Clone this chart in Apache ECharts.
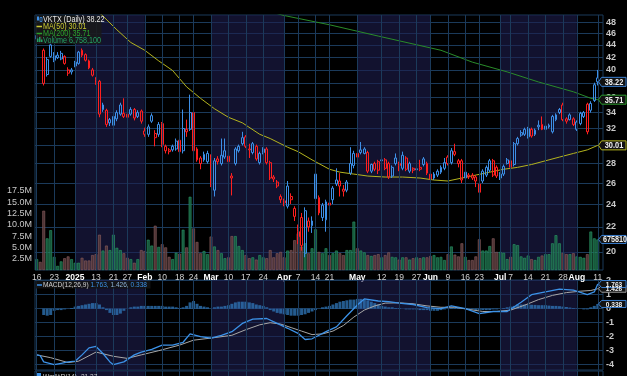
<!DOCTYPE html>
<html>
<head>
<meta charset="utf-8">
<script src="https://cdn.jsdelivr.net/npm/echarts@6.0.0/dist/echarts.min.js"></script>
<style>
html,body{margin:0;padding:0;background:#000;overflow:hidden;}
#chart{width:627px;height:376px;}
</style>
</head>
<body>
<div id="chart"></div>
<script>
// ---------------- categories (trading days) ----------------
const tradingMonths = ['2024-12','2025-01','2025-02','2025-03','2025-04','2025-05','2025-06','2025-07','2025-08'];
const tradingDays = [
  [16,17,18,19,20,23,24,26,27,30,31],
  [2,3,6,7,8,10,13,14,15,16,17,21,22,23,24,27,28,29,30,31],
  [3,4,5,6,7,10,11,12,13,14,18,19,20,21,24,25,26,27,28],
  [3,4,5,6,7,10,11,12,13,14,17,18,19,20,21,24,25,26,27,28,31],
  [1,2,3,4,7,8,9,10,11,14,15,16,17,21,22,23,24,25,28,29,30],
  [1,2,5,6,7,8,9,12,13,14,15,16,19,20,21,22,23,27,28,29,30],
  [2,3,4,5,6,9,10,11,12,13,16,17,18,20,23,24,25,26,27,30],
  [1,2,3,7,8,9,10,11,14,15,16,17,18,21,22,23,24,25,28,29,30,31],
  [1,4,5,6,7,8,11]
];
const dates = [];
tradingMonths.forEach((m, k) => tradingDays[k].forEach(d => dates.push(m + '-' + String(d).padStart(2, '0'))));

// ---------------- tick labels ----------------
const tickDates = ['2024-12-16','2024-12-23','2025-01-02','2025-01-13','2025-01-21','2025-01-27','2025-02-03','2025-02-10','2025-02-18','2025-02-24','2025-03-03','2025-03-10','2025-03-17','2025-03-24','2025-04-01','2025-04-07','2025-04-14','2025-04-21','2025-05-01','2025-05-12','2025-05-19','2025-05-27','2025-06-02','2025-06-09','2025-06-16','2025-06-23','2025-07-01','2025-07-07','2025-07-14','2025-07-21','2025-07-28','2025-08-01','2025-08-11'];
const tickLabels = ['16','23','2025','13','21','27','Feb','10','18','24','Mar','10','17','24','Apr','7','14','21','May','12','19','27','Jun','9','16','23','Jul','7','14','21','28','Aug','11'];
const shadedMonths = [['2025-01-02','2025-02-03'],['2025-03-03','2025-04-01'],['2025-05-01','2025-06-02'],['2025-07-01','2025-08-01']];
const priceTicks = [20,22,24,26,28,30,32,34,36,38,40,42,44,46,48];
const volumeTicks = [2.5,5,7.5,10,12.5,15,17.5];
const macdTicks = [-4,-3,-2,-1,0,1,2];

// ---------------- price data ----------------
const opens = [45.0,45.4,43.1,39.3,44.0,41.5,41.9,41.7,42.1,40.0,
 40.0,40.6,41.0,43.1,42.4,41.4,40.0,38.1,38.3,34.4,
 34.3,33.1,32.4,33.2,33.8,33.9,33.8,33.8,34.4,34.0,
 34.2,31.7,31.3,32.9,30.9,31.3,32.6,29.9,29.5,29.5,
 29.6,30.6,29.4,31.9,31.9,34.0,29.6,28.6,28.4,28.2,
 28.7,25.3,28.5,28.0,28.7,28.8,26.5,28.0,29.4,30.2,
 31.0,29.6,29.2,29.9,28.1,29.6,29.6,28.1,26.6,26.1,
 24.7,24.3,23.8,24.7,23.6,21.2,22.8,19.9,22.5,22.1,
 26.9,24.6,22.8,22.6,24.1,24.4,26.3,26.2,25.4,25.3,
 27.0,27.8,29.1,29.2,29.1,29.2,27.2,28.0,28.2,28.3,
 28.4,28.0,26.7,28.0,28.0,27.5,28.6,27.2,27.5,27.35,
 27.6,27.9,28.0,26.9,26.5,26.8,27.1,27.5,28.7,28.1,
 29.3,28.3,28.3,26.5,26.8,26.8,26.6,25.9,26.2,26.8,
 27.3,28.3,27.6,26.5,26.9,28.0,28.3,27.9,30.2,31.2,
 31.3,31.0,31.9,31.3,32.2,32.5,31.9,32.2,31.6,33.1,
 34.0,35.0,33.2,33.1,33.2,31.9,32.6,33.5,35.1,34.3,
 35.6,38.8];
const highs = [46.2,45.9,43.4,42.0,44.3,42.8,42.8,43.0,42.3,40.4,
 40.3,41.4,43.0,43.4,42.6,41.6,40.3,38.9,38.5,35.3,
 34.5,33.3,35.2,34.3,35.3,35.9,34.0,34.7,34.6,34.3,
 34.4,32.1,32.5,33.9,31.8,32.8,32.8,30.1,29.7,30.1,
 30.8,30.8,34.4,33.1,36.4,34.2,29.8,28.8,29.3,29.4,
 29.0,28.6,28.8,30.8,30.8,29.0,27.0,29.8,30.1,31.6,
 31.2,30.2,30.4,30.1,29.3,29.8,29.8,28.3,26.8,26.3,
 24.9,24.5,26.2,25.0,23.8,22.2,23.2,23.7,22.8,22.9,
 27.1,24.8,24.1,24.4,24.3,25.7,27.5,27.0,25.8,26.3,
 29.8,29.4,29.4,30.4,29.8,29.4,28.0,28.2,28.4,29.1,
 28.6,28.2,27.8,29.1,28.2,29.3,28.8,28.2,27.6,27.9,
 28.4,28.7,28.2,27.1,27.1,27.4,27.8,28.6,28.9,29.7,
 30.2,28.5,28.5,27.3,27.0,27.0,26.8,26.1,27.4,27.8,
 28.5,28.5,27.8,27.1,27.9,28.6,28.5,30.4,31.0,31.8,
 32.1,32.2,32.1,32.0,33.0,33.5,32.4,32.6,33.7,33.9,
 34.6,35.3,33.4,33.9,33.4,33.0,34.1,34.2,35.3,35.5,
 38.1,40.0];
const lows = [44.6,44.3,37.7,39.0,41.9,41.2,41.7,41.5,40.8,39.1,
 39.3,40.4,40.8,42.0,41.3,40.1,39.0,37.8,33.4,34.1,
 32.2,32.3,30.8,32.9,33.6,33.3,33.1,33.6,33.0,33.3,
 32.6,31.0,31.0,32.7,29.9,31.0,29.8,29.1,29.0,29.3,
 29.4,29.1,29.1,31.0,31.7,29.2,28.2,27.4,28.2,28.0,
 25.6,24.7,27.9,27.8,28.5,28.0,24.8,27.8,29.2,30.0,
 29.7,28.6,29.0,28.3,27.9,29.0,27.9,26.3,26.1,25.5,
 24.1,23.8,23.6,24.0,22.5,20.6,20.1,19.6,21.6,21.5,
 24.3,23.0,22.5,21.6,23.7,24.0,25.7,24.7,24.7,25.1,
 26.8,27.5,28.5,29.0,29.0,27.0,27.0,27.2,26.9,27.9,
 27.3,26.4,26.5,27.8,27.2,27.3,27.2,27.0,27.0,27.0,
 27.2,27.7,26.8,26.2,26.3,26.6,26.9,27.3,27.8,27.9,
 28.8,27.6,26.0,26.3,26.4,26.3,25.6,24.0,26.0,26.6,
 27.1,26.6,26.5,26.3,26.7,27.9,27.4,27.7,30.0,31.0,
 31.1,30.8,30.9,31.1,31.8,31.8,31.7,32.0,31.4,32.9,
 33.8,32.9,32.6,33.0,32.3,31.7,32.4,33.3,31.3,34.0,
 35.4,37.7];
const closes = [45.6,44.7,38.0,41.6,42.1,42.2,42.3,42.6,41.0,39.5,
 39.7,41.2,42.8,42.3,41.5,40.3,39.2,38.6,33.8,35.0,
 32.5,32.7,33.5,34.0,35.0,33.5,33.4,34.4,33.3,33.5,
 32.9,31.3,32.2,33.6,31.4,32.5,30.1,29.4,29.3,29.9,
 30.5,29.3,32.0,31.6,34.0,29.4,28.4,28.0,29.0,29.1,
 25.8,28.3,28.2,28.9,29.4,28.2,26.7,29.6,29.9,30.9,
 29.9,29.5,30.2,28.5,29.1,29.2,28.1,26.5,26.4,25.7,
 24.4,24.1,25.7,24.4,22.9,21.6,20.5,23.4,22.0,22.5,
 24.5,23.2,23.9,24.2,23.9,25.5,25.9,25.7,25.2,26.1,
 28.0,29.1,28.7,29.5,29.6,27.2,27.9,27.4,27.3,28.4,
 27.5,26.6,27.6,28.6,27.8,28.9,27.4,28.0,27.3,27.45,
 27.4,28.5,27.0,26.4,26.9,27.2,27.6,28.1,28.0,29.4,
 29.0,28.0,26.3,27.1,26.6,26.5,26.2,25.1,27.2,27.6,
 28.3,26.8,26.7,26.9,27.7,28.4,27.6,30.2,30.8,31.5,
 31.9,32.0,31.1,31.8,32.4,31.9,32.3,32.4,33.5,33.7,
 34.4,33.1,32.9,33.7,32.5,32.8,33.9,34.0,31.6,35.2,
 37.8,38.22];
// volume in millions of shares
const volumeM = [2.4,1.8,13.1,7.0,8.8,2.9,0.9,1.9,2.6,3.0,
 2.4,1.6,1.6,2.7,2.1,2.1,3.3,3.5,7.8,4.3,
 5.4,4.4,7.8,4.9,4.4,3.7,2.7,2.4,1.6,2.4,
 4.4,4.2,6.7,5.4,9.8,5.1,5.7,5.0,2.9,2.4,
 3.8,3.6,8.9,5.0,16.2,9.2,6.2,3.7,4.2,3.5,
 7.4,5.2,4.4,3.7,2.6,2.8,7.5,7.5,5.3,4.4,
 3.3,2.6,2.8,2.3,3.3,2.8,2.6,4.4,2.8,3.7,
 4.0,2.8,4.3,4.4,6.6,8.1,5.2,5.9,3.7,4.8,
 9.0,4.0,3.7,4.8,3.3,3.7,4.3,3.7,3.3,4.4,
 4.4,10.7,4.8,4.3,3.9,3.3,3.1,3.3,3.5,2.8,
 3.3,3.9,2.9,2.8,2.3,2.8,2.8,2.3,2.6,2.8,
 2.6,2.8,2.8,3.1,3.3,2.8,2.9,2.2,3.5,5.2,
 3.4,3.0,5.9,2.9,2.2,2.2,3.0,6.8,4.3,4.3,
 5.3,7.0,4.0,4.0,3.8,2.4,2.9,5.7,5.5,3.0,
 2.7,3.2,2.4,2.2,2.9,3.2,3.5,3.5,5.9,7.7,
 5.9,3.8,3.5,3.5,3.7,3.0,2.9,2.7,3.5,8.5,
 7.0,6.7581];
// moving averages: [day index, value]
const ma50 = [[15,51.5],[19,49.1],[23,46.6],[27,44.4],[31,43.1],[35,41.4],[39,39.9],[43,37.5],[47,35.9],[51,34.5],[55,33.4],[59,32.7],[64,31.3],[67,30.8],[72,29.8],[75,29.3],[79,28.4],[84,27.4],[87,27.1],[91,26.9],[95,26.7],[100,26.6],[105,26.6],[110,26.5],[114,26.3],[118,26.2],[122,26.5],[126,26.8],[130,27.1],[134,27.4],[138,27.6],[142,27.9],[146,28.3],[150,28.7],[154,29.1],[158,29.5],[161,30.01]];
const ma200 = [[66,50.1],[71,49.2],[84,47.5],[98,45.5],[116,43.1],[125,41.2],[135,39.7],[144,38.2],[154,36.8],[159,35.9],[161,35.71]];
// MACD(12,26,9)
const macdLine = [[0,-3.3],[1,-3.35],[2,-3.8],[5,-4.0],[7,-3.9],[9,-3.8],[11,-3.75],[13,-3.3],[15,-2.8],[17,-2.7],[19,-3.2],[21,-3.8],[22,-4.0],[25,-3.8],[28,-3.3],[30,-3.1],[33,-2.9],[36,-2.6],[39,-2.6],[42,-2.4],[44,-1.8],[47,-2.0],[50,-2.1],[53,-1.9],[56,-1.64],[59,-1.05],[62,-0.74],[66,-0.7],[69,-1.05],[72,-1.4],[75,-1.76],[77,-2.2],[79,-2.15],[81,-1.9],[83,-1.64],[86,-1.3],[89,-0.5],[92,0.26],[94,0.7],[98,0.55],[101,0.5],[104,0.4],[108,0.3],[112,0.07],[116,0],[119,0.2],[123,0],[127,-0.36],[131,-0.2],[135,-0.2],[139,0.46],[142,1.0],[146,1.2],[150,1.4],[154,1.33],[158,1.0],[160,1.2],[161,1.763]];
const signalLine = [[0,-3.3],[4,-3.5],[9,-3.85],[12,-3.75],[17,-3.1],[22,-3.4],[26,-3.55],[30,-3.3],[35,-3.0],[41,-2.6],[45,-2.25],[50,-2.1],[56,-1.9],[60,-1.5],[64,-1.15],[67,-1.0],[70,-1.1],[73,-1.35],[76,-1.6],[79,-1.85],[82,-1.8],[85,-1.6],[88,-1.2],[91,-0.6],[94,-0.1],[97,0.2],[100,0.4],[104,0.42],[108,0.35],[112,0.2],[116,0.1],[120,0.1],[124,-0.05],[128,-0.2],[132,-0.2],[136,-0.1],[140,0.25],[144,0.65],[148,0.95],[152,1.15],[156,1.25],[159,1.3],[161,1.426]];
const macdHist = [0,0,-0.45,-0.5,-0.45,-0.15,-0.1,-0.1,-0.05,0,
 0.05,0.15,0.2,0.25,0.3,0.35,0.4,0.4,0.3,0.1,
 -0.1,-0.3,-0.45,-0.45,-0.35,-0.15,0,0.1,0.15,0.15,
 0.2,0.2,0.2,0.2,0.2,0.2,0.2,0.15,0.15,0.15,
 0.1,0.05,0.1,0.2,0.45,0.55,0.35,0.2,0.15,0.1,
 0,0.1,0.15,0.15,0.2,0.25,0.35,0.45,0.5,0.5,
 0.5,0.45,0.4,0.3,0.25,0.2,0.1,-0.1,-0.2,-0.3,
 -0.35,-0.4,-0.45,-0.5,-0.5,-0.5,-0.45,-0.4,-0.3,-0.2,
 -0.1,0,0.1,0.15,0.2,0.3,0.4,0.5,0.55,0.6,
 0.65,0.65,0.7,0.7,0.65,0.6,0.5,0.4,0.3,0.2,
 0.15,0.1,0.1,0.05,0.05,0,-0.05,-0.05,-0.05,-0.05,
 -0.1,-0.1,-0.1,-0.15,-0.15,-0.15,-0.1,-0.05,0,0.05,
 0.05,0.05,0,0,-0.05,-0.05,-0.1,-0.1,-0.1,-0.1,
 -0.1,-0.05,-0.05,0,0.05,0.1,0.15,0.2,0.3,0.3,
 0.3,0.3,0.28,0.27,0.25,0.25,0.25,0.22,0.2,0.2,
 0.18,0.15,0.12,0.08,0.05,0.03,0,-0.05,-0.05,0.1,
 0.2,0.338];
const wprLast = -21.37;

// ---------------- styling ----------------
const FONT = "'Liberation Sans',Arial,sans-serif";
const BLUE = '#3d8fe6', RED = '#ff1f1f';
const GRIDC = '#1b3a5a';
const SHADE = 'rgba(30,30,78,0.6)';
const VOL_UP = 'rgba(26,100,68,0.85)', VOL_UP_B = '#2b9a68';
const VOL_DN = 'rgba(84,56,58,0.9)', VOL_DN_B = '#8c5e60';
const L = 35, R = 24;
const priceMin = 18.67, priceMax = 49.3;
const N = dates.length;
const tickSet = new Set(tickDates);

const candleData = dates.map((d, i) => {
  const o = opens[i], c = closes[i], l = lows[i], h = highs[i];
  const prev = i > 0 ? closes[i - 1] : o;
  const col = c >= prev ? BLUE : RED;
  return {value: [Math.log(o), Math.log(c), Math.log(l), Math.log(h)],
          itemStyle: {color: 'rgba(0,0,0,0)', color0: col, borderColor: col, borderColor0: col}};
});
const volData = volumeM.map((v, i) => {
  const up = i === 0 ? closes[0] >= opens[0] : closes[i] >= closes[i - 1];
  return {value: v, itemStyle: {color: up ? VOL_UP : VOL_DN, borderColor: up ? VOL_UP_B : VOL_DN_B, borderWidth: 0.6}};
});
const logPairs = arr => arr.map(p => [p[0], Math.log(p[1])]);

function bgSeries(xi, yi) {
  return {
    type: 'line', xAxisIndex: xi, yAxisIndex: yi, data: [], silent: true, z: 1, symbol: 'none',
    markArea: {silent: true, itemStyle: {color: SHADE}, data: shadedMonths.map(r => [{xAxis: r[0]}, {xAxis: r[1]}])},
    markLine: {silent: true, symbol: ['none', 'none'], label: {show: false},
               lineStyle: {color: GRIDC, width: 1, type: 'solid'}, emphasis: {disabled: true},
               data: tickDates.map(d => ({xAxis: d}))}
  };
}
function xAx(gi, showLabels) {
  return {
    type: 'category', gridIndex: gi, data: dates, boundaryGap: true, max: N,
    axisLine: {show: false}, axisTick: {show: false}, splitLine: {show: false},
    axisLabel: showLabels ? {
      show: true, margin: 3, interval: (i, v) => tickSet.has(v),
      formatter: v => {
        const t = tickLabels[tickDates.indexOf(v)];
        if (t === undefined) return '';
        return (isNaN(+t) || t.length === 4) ? '{m|' + t + '}' : '{d|' + t + '}';
      },
      rich: {
        m: {color: '#ffffff', fontWeight: 'bold', fontSize: 8.5, fontFamily: FONT},
        d: {color: '#d0d0d0', fontSize: 8.5, fontFamily: FONT}
      }
    } : {show: false}
  };
}
const gridBase = {left: L, right: R, show: true, borderColor: GRIDC, borderWidth: 1, backgroundColor: 'transparent'};

const option = {
  backgroundColor: '#000000',
  animation: false,
  grid: [
    Object.assign({}, gridBase, {top: 15, height: 255}),
    {left: L, right: R, top: 179.6, height: 90.4, show: false},
    Object.assign({}, gridBase, {top: 280, height: 90}),
    Object.assign({}, gridBase, {top: 371, height: 40})
  ],
  xAxis: [xAx(0, true), xAx(1, false), xAx(2, false), xAx(3, false)],
  yAxis: [
    {type: 'value', gridIndex: 0, position: 'right', min: Math.log(priceMin), max: Math.log(priceMax),
     axisLine: {show: false}, axisTick: {show: false, customValues: priceTicks.map(Math.log)},
     axisLabel: {customValues: priceTicks.map(Math.log), formatter: v => String(Math.round(Math.exp(v))),
                 color: '#c8c8c8', fontWeight: 'bold', fontSize: 9, fontFamily: FONT, margin: 3},
     splitLine: {show: true, lineStyle: {color: GRIDC, width: 1}}},
    {type: 'value', gridIndex: 1, position: 'left', min: 0, max: 20, interval: 2.5,
     axisLine: {show: false}, axisTick: {show: false},
     axisLabel: {showMinLabel: false, showMaxLabel: false, formatter: v => v.toFixed(1) + 'M',
                 color: '#c8c8c8', fontSize: 9, fontFamily: FONT, margin: 3},
     splitLine: {show: false}},
    {type: 'value', gridIndex: 2, position: 'right', min: -4.38, max: 2.05,
     axisLine: {show: false}, axisTick: {show: false, customValues: macdTicks},
     axisLabel: {customValues: macdTicks, formatter: v => String(Math.round(v)),
                 color: '#c8c8c8', fontWeight: 'bold', fontSize: 9, fontFamily: FONT, margin: 3},
     splitLine: {show: true, lineStyle: {color: GRIDC, width: 1}}},
    {type: 'value', gridIndex: 3, min: -100, max: 0, axisLine: {show: false}, axisTick: {show: false},
     axisLabel: {show: false}, splitLine: {show: false}}
  ],
  series: [
    bgSeries(0, 0),
    {name: 'Volume', type: 'bar', xAxisIndex: 1, yAxisIndex: 1, data: volData, barWidth: 2.8, z: 2, silent: true},
    {name: 'MA(50)', type: 'line', xAxisIndex: 0, yAxisIndex: 0, data: logPairs(ma50), symbol: 'none', z: 3,
     lineStyle: {color: '#b4b41e', width: 1}, clip: true, silent: true},
    {name: 'MA(200)', type: 'line', xAxisIndex: 0, yAxisIndex: 0, data: logPairs(ma200), symbol: 'none', z: 3,
     lineStyle: {color: '#2a8c2a', width: 1}, clip: true, silent: true},
    {name: 'VKTX', type: 'candlestick', xAxisIndex: 0, yAxisIndex: 0, data: candleData, barWidth: 2.4, z: 4,
     itemStyle: {borderWidth: 1}, silent: true, clip: true},
    bgSeries(2, 2),
    {name: 'Hist', type: 'bar', xAxisIndex: 2, yAxisIndex: 2, data: macdHist, barWidth: 3, z: 2, silent: true,
     itemStyle: {color: 'rgba(48,122,190,0.75)'}},
    {name: 'Signal', type: 'line', xAxisIndex: 2, yAxisIndex: 2, data: signalLine, symbol: 'none', z: 3,
     lineStyle: {color: '#a8a8a8', width: 1}, silent: true},
    {name: 'MACD', type: 'line', xAxisIndex: 2, yAxisIndex: 2, data: macdLine, symbol: 'none', z: 4,
     lineStyle: {color: '#3c92e8', width: 1.3}, silent: true},
    bgSeries(3, 3)
  ]
};

const chart = echarts.init(document.getElementById('chart'), null, {renderer: 'canvas', width: 627, height: 376});
chart.setOption(option);

// ---------------- overlays (legends, value boxes) ----------------
const last = N - 1;
const fmt2 = v => v.toFixed(2);
const gfx = [];
function txt(x, y, text, fill, size, extra) {
  extra = extra || {};
  gfx.push({type: 'text', z: 120, x: x, y: y, scaleX: extra.sx || 0.8,
    style: {x: 0, y: 0, text: text, fill: fill, font: (extra.bold ? 'bold ' : '') + size + 'px ' + FONT,
            align: extra.align || 'left', verticalAlign: extra.va || 'middle', rich: extra.rich}});
}
function valueBox(y, text, stroke, h, size, leftText) {
  gfx.push({type: 'polygon', z: 110,
    shape: {points: [[598.5, y], [601.5, y - h / 2], [626, y - h / 2], [626, y + h / 2], [601.5, y + h / 2]]},
    style: {fill: '#121212', stroke: stroke, lineWidth: 1}});
  if (leftText) txt(603, y + 0.5, text, '#f0f0f0', size, {bold: true, sx: 0.85});
  else txt(614, y + 0.5, text, '#f0f0f0', size, {bold: true, align: 'center', sx: 0.82});
}
const py = v => chart.convertToPixel({yAxisIndex: 0}, Math.log(v));
const vy = v => chart.convertToPixel({yAxisIndex: 1}, v);
const my = v => chart.convertToPixel({yAxisIndex: 2}, v);

valueBox(py(ma50[ma50.length - 1][1]), fmt2(ma50[ma50.length - 1][1]), '#b4b41e', 9, 9);
valueBox(py(ma200[ma200.length - 1][1]), fmt2(ma200[ma200.length - 1][1]), '#2a9a2a', 9, 9);
valueBox(py(closes[last]), fmt2(closes[last]), '#3a7fd0', 9, 9);
valueBox(vy(volumeM[last]), String(Math.round(volumeM[last] * 1e6)), '#3a7fd0', 8, 8.5, true);
const macdLast = macdLine[macdLine.length - 1][1], sigLast = signalLine[signalLine.length - 1][1], histLast = macdHist[last];
valueBox(my(sigLast), sigLast.toFixed(3), '#9a9a9a', 7, 8);
valueBox(my(macdLast), macdLast.toFixed(3), '#3a7fd0', 7, 8);
valueBox(my(histLast), histLast.toFixed(3), '#3a7fd0', 7, 8);

// price legend
gfx.push({type: 'rect', z: 100, shape: {x: 35.5, y: 15.5, width: 66, height: 28.5}, style: {fill: 'rgba(26,26,26,0.85)'}});
gfx.push({type: 'rect', z: 110, shape: {x: 37, y: 16.5, width: 2, height: 4}, style: {fill: BLUE}});
gfx.push({type: 'rect', z: 110, shape: {x: 40, y: 17.5, width: 2, height: 4}, style: {fill: 'none', stroke: BLUE, lineWidth: 0.8}});
txt(43, 19.5, 'VKTX (Daily) ' + fmt2(closes[last]), '#e6e6e6', 9);
gfx.push({type: 'line', z: 110, shape: {x1: 36.5, y1: 26.5, x2: 42, y2: 26.5}, style: {stroke: '#c8c832', lineWidth: 1.5}});
txt(43, 26.5, 'MA(50) ' + fmt2(ma50[ma50.length - 1][1]), '#c8c832', 9);
gfx.push({type: 'line', z: 110, shape: {x1: 36.5, y1: 33.5, x2: 42, y2: 33.5}, style: {stroke: '#2ca02c', lineWidth: 1.5}});
txt(43, 33.5, 'MA(200) ' + fmt2(ma200[ma200.length - 1][1]), '#2ca02c', 9);
gfx.push({type: 'rect', z: 110, shape: {x: 37, y: 38.5, width: 1.5, height: 3.5}, style: {fill: '#22a064'}});
gfx.push({type: 'rect', z: 110, shape: {x: 39, y: 37, width: 1.5, height: 5}, style: {fill: '#22a064'}});
gfx.push({type: 'rect', z: 110, shape: {x: 41, y: 39.5, width: 1.5, height: 2.5}, style: {fill: '#22a064'}});
txt(43, 40.5, 'Volume ' + Math.round(volumeM[last] * 1e6).toLocaleString('en-US'), '#22a064', 9);

// MACD legend
gfx.push({type: 'rect', z: 100, shape: {x: 35.5, y: 281, width: 115, height: 7.5}, style: {fill: 'rgba(20,20,20,0.85)'}});
gfx.push({type: 'line', z: 110, shape: {x1: 37, y1: 285, x2: 42, y2: 285}, style: {stroke: '#3c92e8', lineWidth: 1.5}});
txt(43, 285, '{a|MACD(12,26,9) }{b|' + macdLast.toFixed(3) + ',}{c| ' + sigLast.toFixed(3) + ',}{b| ' + histLast.toFixed(3) + '}',
    '#d0d0d0', 8, {sx: 0.82, rich: {a: {fill: '#d0d0d0', font: '8px ' + FONT}, b: {fill: '#3c92e8', font: '8px ' + FONT}, c: {fill: '#8fb4d8', font: '8px ' + FONT}}});

// Williams %R legend (panel cut off at the bottom)
gfx.push({type: 'rect', z: 110, shape: {x: 37, y: 373, width: 4, height: 3}, style: {fill: '#3c92e8'}});
txt(43, 372.5, 'Wm%R(14) ' + wprLast.toFixed(2), '#c8c8c8', 8, {va: 'top', sx: 0.82});

chart.setOption({graphic: gfx});
</script>
</body>
</html>
